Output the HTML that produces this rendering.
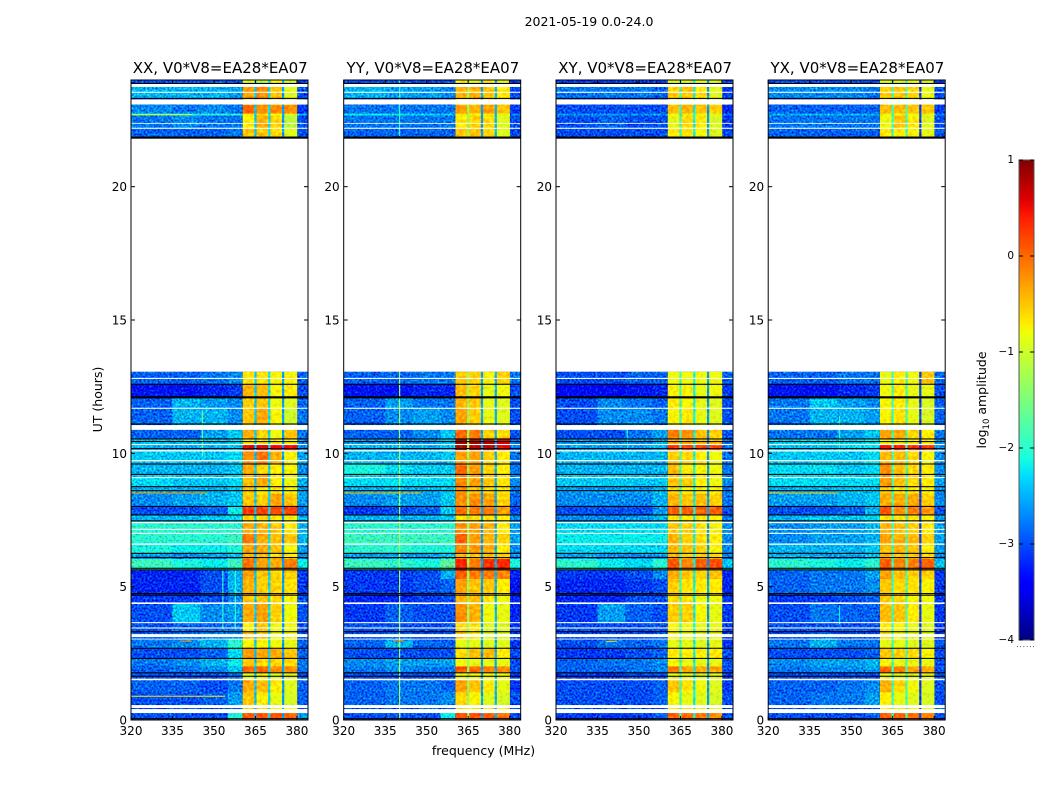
<!DOCTYPE html>
<html>
<head>
<meta charset="utf-8">
<title>2021-05-19 spectrogram</title>
<style>
html,body{margin:0;padding:0;background:#fff;width:1050px;height:800px;overflow:hidden}
svg{display:block}
text{font-family:"DejaVu Sans","Liberation Sans",sans-serif;fill:#000}
</style>
</head>
<body>
<svg id="chart" xmlns="http://www.w3.org/2000/svg" width="1050" height="800" viewBox="0 0 1050 800">
<defs>
<filter id="speckle" filterUnits="objectBoundingBox" x="0" y="0" width="1" height="1" color-interpolation-filters="sRGB">
<feTurbulence type="fractalNoise" baseFrequency="0.5" numOctaves="1" seed="7" result="n"/>
<feColorMatrix in="n" type="matrix" values="0 0 0 0 0.5  1 0 0 0 0  0 1 0 0 0  0 0 0 0 1" result="g"/>
<feComposite in="SourceGraphic" in2="g" operator="arithmetic" k1="0" k2="1" k3="1.3" k4="-0.65"/>
</filter>
<filter id="speckle-soft" filterUnits="objectBoundingBox" x="0" y="0" width="1" height="1" color-interpolation-filters="sRGB">
<feTurbulence type="fractalNoise" baseFrequency="0.3" numOctaves="2" seed="11" result="n"/>
<feColorMatrix in="n" type="matrix" values="0 0 0 0 0.5  1 0 0 0 0  0 0 0 0 0.5  0 0 0 0 1" result="g"/>
<feComposite in="SourceGraphic" in2="g" operator="arithmetic" k1="0" k2="1" k3="0.5" k4="-0.25"/>
</filter>
<linearGradient id="cbar-gradient" x1="0" y1="1" x2="0" y2="0"></linearGradient>
</defs>
<text x="589" y="26" font-size="12.5" text-anchor="middle">2021-05-19 0.0-24.0</text>
<text x="483.5" y="755" font-size="12.5" text-anchor="middle">frequency (MHz)</text>
<text transform="translate(102,399.5) rotate(-90)" font-size="12.5" text-anchor="middle">UT (hours)</text>
<text transform="translate(986,400) rotate(-90)" font-size="12.5" text-anchor="middle">log<tspan font-size="8.5" dy="3">10</tspan><tspan dy="-3"> amplitude</tspan></text>
<g id="panels"></g>
<g id="cbar"></g>
</svg>
<script>
// ---------- chart data ----------
var panelTitles = ["XX, V0*V8=EA28*EA07", "YY, V0*V8=EA28*EA07", "XY, V0*V8=EA28*EA07", "YX, V0*V8=EA28*EA07"];
var xTickLabels = [320, 335, 350, 365, 380];
var yTickLabels = [0, 5, 10, 15, 20];
var cbarTickLabels = [1, 0, -1, -2, -3, -4];
// frequency columns (MHz): four background, band 1, gap, band 2, gap, band 3, gap, band 4, edge
var freqEdges = [320, 335, 345, 355, 360.4, 364.6, 365.4, 369.6, 370.4, 374.6, 375.4, 380, 384];
// UT bands (hours)
var rowStarts = [0, .28, .56, 1.05, 1.52, 1.8, 2.02, 2.31, 2.69, 3.04, 3.31, 3.65, 4.37, 4.72, 5.3, 5.63, 6.05, 6.27, 6.6, 7.0, 7.4, 7.69, 8.01, 8.5, 8.75, 9.21, 9.6, 10.1, 10.33, 10.55, 11.06, 11.7, 12.1, 12.6, 21.84, 22.2, 22.68, 22.75, 23.08, 23.31, 23.85];
var rowEnds = [.28, .56, 1.05, 1.52, 1.8, 2.02, 2.31, 2.69, 3.04, 3.31, 3.65, 4.37, 4.72, 5.3, 5.63, 6.05, 6.27, 6.6, 7.0, 7.4, 7.69, 8.01, 8.5, 8.75, 9.21, 9.6, 10.1, 10.33, 10.55, 11.06, 11.7, 12.1, 12.6, 13.06, 22.2, 22.68, 22.75, 23.08, 23.31, 23.85, 24];
// log10 amplitude per row: 320-335, 335-345, 345-355, 355-360, band1, band2, band3, band4, edge
var valuesXX = [
[-3,-3,-3,-2.1,.05,.1,.1,0,-2.6],[-3,-3,-3,-3,-.6,-.6,-.7,-.7,-3],
[-3,-3,-2.9,-2.6,-.5,-.7,-.85,-.95,-2.9],[-2.9,-2.9,-3,-2.8,-.35,-.45,-.7,-.9,-2.9],
[-3,-3,-3,-2.8,-.9,-.8,-.9,-.9,-3],[-2.9,-2.8,-2.7,-2.4,0,0,-.2,-.2,-2.8],
[-2.8,-2.7,-2.5,-2.2,-.5,-.6,-.6,-.6,-2.8],[-3,-3,-2.9,-2.3,-.25,-.3,-.35,-.5,-2.9],
[-2.8,-2.7,-2.5,-2,-.75,-.75,-.8,-.85,-2.9],[-2.9,-2.8,-2.7,-2.7,-.4,-.5,-.8,-.8,-3],
[-3,-2.9,-2.9,-2.8,-.7,-.5,-.8,-.8,-3],[-3,-2.4,-2.7,-2.6,-.35,-.3,-.55,-.8,-3],
[-3.1,-3.1,-3,-2.7,-.5,-.5,-.6,-.75,-3],[-3.2,-3.2,-3,-2.5,-.4,-.55,-.55,-.65,-3.1],
[-3.2,-3.2,-3,-2.5,-.3,-.5,-.6,-.55,-3.1],[-1.9,-2.1,-2.2,-1.9,-.05,-.3,-.35,-.1,-2.2],
[-2.6,-2.7,-2.6,-2.4,-.4,-.5,-.6,-.7,-2.7],[-2.1,-2.2,-2.2,-2.1,-.3,-.35,-.5,-.75,-2.6],
[-2,-2,-2,-1.9,-.1,-.35,-.45,-.5,-2.5],[-2,-2,-2,-2,-.35,-.4,-.5,-.7,-2.5],
[-2.5,-2.5,-2.4,-2.3,-.6,-.6,-.7,-.75,-2.5],[-3,-3,-2.9,-2.2,.25,.2,.15,.2,-2.8],
[-2.7,-2.6,-2.5,-2.4,-.5,-.55,-.3,-.5,-2.6],[-2.5,-2.5,-2.5,-2.4,-.5,-.7,-.7,-.75,-2.6],
[-2.3,-2.4,-2.4,-2.3,-.45,-.3,-.7,-.8,-2.5],[-2.5,-2.5,-2.5,-2.4,-.35,-.6,-.7,-.75,-2.7],
[-2.4,-2.4,-2.4,-2.3,-.2,-.05,-.4,-.75,-2.6],[-2.5,-2.5,-2.5,-2.4,.6,.6,.5,.5,-2.7],
[-2.4,-2.4,-2.4,-2.3,-.7,-.7,-.7,-.75,-2.7],[-2.9,-2.9,-2.6,-2.4,-.35,-.6,-.8,-.5,-2.8],
[-2.9,-2.5,-2.5,-2.7,-.5,-.35,-.75,-1,-2.8],[-2.9,-2.5,-2.6,-2.7,-.55,-.5,-.8,-.9,-2.9],
[-3.3,-3.3,-3.2,-3.1,-.4,-.45,-.75,-.7,-3],[-2.9,-2.9,-2.8,-2.7,-.65,-.65,-.75,-.75,-2.9],
[-2.9,-2.9,-2.9,-2.8,-.5,-.5,-.6,-.9,-3],[-2.8,-2.7,-2.8,-2.8,-.7,-.4,-.6,-1.1,-3],
[-1.9,-2,-2,-2,-.8,-.7,-.8,-.9,-2.5],[-2.7,-2.8,-2.7,-2.8,0,-.2,-.2,-.2,-3.1],
[-3,-3,-3,-3,-.6,-.6,-.6,-.6,-3],[-2.5,-2.5,-2.5,-2.6,-.3,-.2,-.5,-.9,-3],
[-3,-3,-3,-3,-.9,-1.1,-.7,-1,-3.1]];
var valuesYY = [
[-3,-3,-3,-2.2,.15,.1,.05,-.05,-3],[-3,-3,-3,-3,-.6,-.7,-.7,-.7,-3],
[-2.9,-2.8,-2.8,-2.7,-.6,-.75,-.9,-.95,-3],[-2.9,-2.8,-2.8,-2.9,-.3,-.5,-.7,-.85,-3.1],
[-3,-3,-3,-3,-.8,-.8,-.8,-.8,-3.1],[-2.8,-2.7,-2.8,-2.8,.1,0,-.15,-.2,-3],
[-2.7,-2.6,-2.6,-2.6,-.8,-.85,-.85,-.85,-3],[-3,-3,-3,-3,-.6,-.45,-.45,-.7,-3],
[-2.9,-2.5,-2.9,-2.9,-.85,-.85,-.9,-.9,-3.1],[-3,-2.9,-3,-3,-.55,-.7,-.9,-.9,-3.1],
[-3,-3,-3,-3,-.6,-.7,-.9,-.9,-3.1],[-3.1,-2.9,-3,-3,-.2,-.4,-.8,-.85,-3.2],
[-3.2,-3.2,-3.1,-3,-.4,-.45,-.7,-.8,-3.2],[-3.1,-3.1,-3,-2.9,-.3,-.5,-.5,-.7,-3.3],
[-3.1,-3.1,-3,-2.5,.05,-.1,-.1,-.15,-3.2],[-1.9,-2,-2.1,-1.7,.35,-.1,.3,.35,-2.1],
[-2.6,-2.6,-2.6,-2.4,-.4,-.5,-.5,-.6,-2.7],[-2,-2,-2.1,-2.1,-.15,-.25,-.4,-.7,-2.7],
[-1.9,-1.9,-1.9,-1.9,.05,-.3,-.4,-.55,-2.6],[-2,-2,-2,-2,-.2,-.3,-.4,-.7,-2.6],
[-2.5,-2.5,-2.5,-2.4,-.6,-.6,-.6,-.7,-2.7],[-3.1,-3,-2.9,-2.4,-.05,-.1,-.1,-.3,-3],
[-2.7,-2.6,-2.6,-2.4,-.2,-.2,-.3,-.55,-2.9],[-2.5,-2.5,-2.5,-2.4,-.2,-.5,-.6,-.7,-2.8],
[-2.3,-2.3,-2.3,-2.3,-.15,-.3,-.5,-.65,-2.7],[-2.1,-2.3,-2.4,-2.4,0,-.3,-.55,-.7,-2.8],
[-2.5,-2.5,-2.5,-2.4,-.3,-.3,-.55,-.7,-2.8],[-2.5,-2.5,-2.5,-2.4,.85,.75,.75,.55,-2.8],
[-2.6,-2.6,-2.6,-2.4,.85,.8,.75,.6,-2.8],[-2.9,-2.9,-2.7,-2.4,0,-.1,-.55,-.6,-3],
[-2.9,-2.7,-2.6,-2.7,-.3,-.55,-.85,-.9,-3],[-2.9,-2.6,-2.8,-2.8,-.4,-.5,-.85,-.9,-3],
[-3.3,-3.3,-3.2,-3.2,-.45,-.6,-.85,-.8,-3],[-2.9,-2.9,-2.8,-2.8,-.5,-.55,-.75,-.55,-2.8],
[-2.9,-2.9,-2.9,-2.9,-.5,-.5,-.6,-.9,-3],[-2.8,-2.8,-2.8,-2.8,-.7,-.55,-.6,-.9,-3],
[-2.2,-2.2,-2.3,-2.4,-.8,-.8,-.8,-.9,-2.7],[-2.8,-2.8,-2.8,-2.8,-.3,-.4,-.3,-.5,-3.1],
[-3,-3,-3,-3,-.6,-.6,-.6,-.6,-3],[-2.5,-2.6,-2.6,-2.7,-.4,-.4,-.5,-.7,-3],
[-3,-3,-3,-3,-.7,-.9,-.7,-.9,-3.1]];
var valuesXY = [
[-3.1,-3.1,-3.1,-2.9,.05,0,-.1,-.2,-3],[-3,-3,-3,-3,-.7,-.7,-.8,-.8,-3],
[-3,-3,-3,-2.9,-.75,-.85,-.9,-.95,-3],[-3,-3,-3,-2.9,-.5,-.65,-.8,-.9,-3.1],
[-3.1,-3.1,-3,-3,-.85,-.85,-.9,-.9,-3.1],[-2.9,-2.9,-2.8,-2.7,-.1,-.3,-.35,-.3,-3],
[-2.9,-2.8,-2.8,-2.7,-.75,-.85,-.85,-.85,-3],[-3.1,-3.1,-3,-2.9,-.7,-.7,-.7,-.7,-3],
[-3,-2.8,-2.9,-2.8,-.85,-.85,-.9,-.85,-3.1],[-3,-3,-3,-2.9,-.75,-.8,-.85,-.85,-3.1],
[-3,-3,-3,-3,-.75,-.8,-.85,-.85,-3.1],[-3.1,-2.6,-2.9,-3,-.55,-.55,-.75,-.85,-3.1],
[-3.2,-3.2,-3,-3,-.6,-.65,-.8,-.8,-3.1],[-3.2,-3.2,-3.1,-3,-.55,-.65,-.7,-.7,-3.2],
[-3.1,-3.1,-3,-2.7,-.35,-.5,-.55,-.5,-3.2],[-2,-2.2,-2.3,-2,.1,-.15,.05,.15,-2.4],
[-2.6,-2.7,-2.7,-2.6,-.4,-.55,-.55,-.6,-2.8],[-2.3,-2.3,-2.3,-2.3,-.45,-.5,-.6,-.75,-2.7],
[-2.2,-2.2,-2.2,-2.2,-.4,-.55,-.6,-.7,-2.7],[-2.3,-2.3,-2.3,-2.3,-.5,-.55,-.65,-.75,-2.7],
[-2.7,-2.7,-2.6,-2.5,-.7,-.7,-.7,-.75,-2.8],[-3,-3,-3,-2.6,.05,.05,0,.05,-3],
[-2.7,-2.7,-2.7,-2.5,-.4,-.5,-.45,-.55,-2.8],[-2.6,-2.6,-2.6,-2.5,-.6,-.75,-.75,-.75,-2.8],
[-2.4,-2.4,-2.4,-2.4,-.5,-.55,-.7,-.8,-2.7],[-2.5,-2.5,-2.5,-2.5,-.45,-.7,-.75,-.8,-2.8],
[-2.5,-2.5,-2.5,-2.5,-.55,-.6,-.7,-.8,-2.8],[-2.6,-2.6,-2.6,-2.5,.3,.25,.2,.2,-2.8],
[-2.6,-2.6,-2.6,-2.5,-.4,-.4,-.5,-.5,-2.8],[-3,-3,-2.8,-2.6,-.1,-.2,-.45,-.55,-3],
[-3,-2.7,-2.7,-2.8,-.75,-.7,-.85,-.9,-3],[-3,-2.7,-2.8,-2.9,-.7,-.75,-.85,-.9,-3],
[-3.4,-3.4,-3.3,-3.2,-.75,-.75,-.85,-.8,-3.1],[-3,-3,-2.9,-2.9,-.8,-.8,-.8,-.8,-2.9],
[-3,-3,-3,-3,-.7,-.7,-.75,-.9,-3],[-3,-2.9,-3,-3,-.85,-.6,-.7,-.95,-3.1],
[-2.6,-2.6,-2.6,-2.6,-.85,-.85,-.85,-.9,-2.8],[-3,-3,-3,-3,-.45,-.4,-.5,-.55,-3.2],
[-3.1,-3.1,-3.1,-3.1,-.7,-.7,-.7,-.7,-3.1],[-2.8,-2.8,-2.8,-2.9,-.55,-.5,-.65,-.9,-3.1],
[-3.1,-3.1,-3.1,-3.1,-.9,-.95,-.85,-.95,-3.1]];
var valuesYX = [
[-3,-3,-3,-2.9,.05,.05,-.05,-.15,-3],[-3,-3,-3,-3,-.7,-.7,-.8,-.8,-3],
[-2.9,-2.8,-2.8,-2.6,-.7,-.85,-.9,-.95,-3],[-2.9,-2.9,-2.8,-2.7,-.4,-.6,-.8,-.9,-3],
[-3,-3,-3,-3,-.85,-.85,-.9,-.9,-3],[-2.8,-2.7,-2.7,-2.6,0,-.1,-.3,-.3,-3],
[-2.7,-2.6,-2.6,-2.5,-.75,-.85,-.85,-.85,-3],[-3,-3,-3,-2.9,-.5,-.55,-.6,-.75,-3],
[-2.8,-2.5,-2.8,-2.8,-.85,-.85,-.9,-.9,-3],[-3,-2.9,-3,-3,-.65,-.75,-.85,-.9,-3.1],
[-3,-3,-3,-3,-.7,-.75,-.85,-.9,-3.1],[-3,-2.8,-2.9,-2.9,-.45,-.5,-.7,-.85,-3.1],
[-3.1,-3.1,-3,-2.9,-.55,-.6,-.75,-.8,-3.1],[-2.9,-2.8,-2.8,-2.7,-.5,-.6,-.65,-.75,-3.1],
[-2.9,-2.8,-2.8,-2.6,-.3,-.45,-.55,-.55,-3.1],[-2,-2.1,-2.2,-2,.05,-.15,-.1,.05,-2.4],
[-2.5,-2.6,-2.6,-2.4,-.4,-.5,-.55,-.6,-2.7],[-2.5,-2.5,-2.5,-2.4,-.45,-.4,-.5,-.7,-2.6],
[-2.7,-2.6,-2.6,-2.5,-.3,-.4,-.45,-.55,-2.6],[-2.7,-2.6,-2.6,-2.5,-.4,-.45,-.55,-.7,-2.6],
[-2.5,-2.4,-2.4,-2.3,-.65,-.65,-.7,-.75,-2.6],[-3,-3,-2.9,-2.5,.1,-.2,-.1,-.25,-3],
[-2.6,-2.6,-2.5,-2.4,-.35,-.35,-.35,-.55,-2.7],[-2.5,-2.5,-2.4,-2.4,-.55,-.7,-.7,-.75,-2.7],
[-2.3,-2.3,-2.3,-2.3,-.25,-.45,-.6,-.7,-2.6],[-2.3,-2.3,-2.4,-2.3,-.2,-.45,-.6,-.7,-2.7],
[-2.4,-2.4,-2.4,-2.3,-.45,-.45,-.6,-.75,-2.7],[-2.4,-2.4,-2.3,-2.3,.45,.4,.3,.25,-2.6],
[-2.3,-2.3,-2.3,-2.2,-.75,-.75,-.75,-.75,-2.6],[-2.8,-2.8,-2.6,-2.4,-.3,-.35,-.6,-.7,-2.8],
[-2.8,-2.5,-2.5,-2.6,-.75,-.65,-.85,-.95,-2.9],[-2.8,-2.4,-2.6,-2.7,-.75,-.7,-.85,-.95,-2.9],
[-3.3,-3.3,-3.2,-3.1,-.8,-.7,-.85,-.85,-3],[-2.9,-2.9,-2.8,-2.8,-.85,-.7,-.8,-.5,-2.9],
[-2.9,-2.9,-2.9,-2.9,-.7,-.7,-.75,-.85,-3],[-2.8,-2.8,-2.8,-2.8,-.8,-.5,-.7,-.9,-3],
[-2.5,-2.5,-2.5,-2.5,-.85,-.85,-.85,-.9,-2.7],[-2.9,-2.9,-2.9,-2.9,-.45,-.45,-.5,-.5,-3.1],
[-3,-3,-3,-3,-.7,-.7,-.7,-.7,-3],[-2.7,-2.7,-2.7,-2.8,-.55,-.5,-.6,-.85,-3],
[-3,-3,-3,-3,-.9,-.95,-.85,-.95,-3.1]];
var panelValues = [valuesXX, valuesYY, valuesXY, valuesYX];
// channel gaps near 365, 370, 375 MHz per panel
var gapValues = [[-2.4,-2.3,-2.6],[-1.3,-2.6,-2.5],[-1.9,-2.2,-2.6],[-1.9,-1.8,-3.1]];
// flagged UT intervals, including the long empty stretch of the observation
var whiteFlags = [[.26,.41],[.45,.56],[1.49,1.55],[3.02,3.05],[3.11,3.22],[3.43,3.47],[3.63,3.67],[4.35,4.41],[6.57,6.62],[6.98,7.02],[7.13,7.17],[7.38,7.43],[9.07,9.11],[9.7,9.75],[10.07,10.12],[10.31,10.35],[10.88,11.06],[11.67,11.71],[12.79,12.83],[13.06,21.84],[22.17,22.21],[22.36,22.39],[23.08,23.27],[23.52,23.56],[23.74,23.85]];
var blackFlags = [[.03,.07],[1.62,1.66],[1.75,1.79],[2.29,2.33],[2.67,2.71],[3.29,3.33],[4.66,4.7],[4.72,4.76],[5.61,5.65],[5.67,5.71],[6.07,6.11],[6.23,6.27],[7.45,7.49],[7.67,7.71],[7.99,8.03],[8.58,8.62],[8.73,8.77],[9.19,9.23],[9.58,9.62],[10.16,10.2],[10.42,10.46],[10.52,10.56],[11.08,11.12],[12.06,12.14],[12.57,12.61],[21.8,21.88],[23.29,23.33],[23.85,23.89]];
// narrow interference: panel, frequency (MHz), start UT, end UT, level
var vlinePanels = [1, 1, 0, 3, 0, 0, 2, 3];
var vlineFreqs = [340, 340, 345.6, 345.6, 353, 357.5, 345.6, 345.6];
var vlineStarts = [0, 21.9, 9.9, 10, 3.4, 3.4, 10, 3.6];
var vlineEnds = [13.06, 24, 11.6, 11.4, 5.6, 5.6, 11, 4.3];
var vlineLevels = [-1.3, -2, -1.7, -2, -2, -2, -2.2, -2.2];
// narrow streaks: panel, UT, start MHz, end MHz, level
var hlinePanels = [0, 0, 1, 3, 1, 0, 2, 0];
var hlineTimes = [.91, 8.53, 8.53, 8.53, 2.97, 2.97, 2.97, 22.72];
var hlineStarts = [320, 320, 320, 320, 338, 338, 338, 320];
var hlineEnds = [354, 347, 348, 345, 342, 342, 342, 342];
var hlineLevels = [-.7, -.2, -.4, -.5, 0, -.1, -.6, -1];

// ---------- axis functions ----------
var SVGNS = 'http://www.w3.org/2000/svg';
var plotLefts = [131, 343.7, 556, 768.2];
var plotWidth = 177, plotTop = 80, plotBottom = 720;
var F0 = 320, F1 = 384, UT1 = 24;
function xScale(p, f) { return plotLefts[p] + (f - F0) / (F1 - F0) * plotWidth; }
function yScale(t) { return plotBottom - t / UT1 * (plotBottom - plotTop); }
var cbTop = 160, cbBottom = 640, cbLeft = 1019, cbRight = 1034;
function cbScale(v) { return cbBottom - (v + 4) / 5 * (cbBottom - cbTop); }
function clamp(x) { return Math.max(0, Math.min(1, x)); }
function jet(v) {
  var t = clamp((v + 4) / 5);
  var r = t < .35 ? 0 : t < .66 ? (t - .35) / .31 : t < .89 ? 1 : 1 - (t - .89) / .11 * .5;
  var g = t < .125 ? 0 : t < .375 ? (t - .125) / .25 : t < .64 ? 1 : t < .91 ? 1 - (t - .64) / .27 : 0;
  var b = t < .11 ? .5 + t / .11 * .5 : t < .34 ? 1 : t < .65 ? 1 - (t - .34) / .31 : 0;
  return 'rgb(' + Math.round(r * 255) + ',' + Math.round(g * 255) + ',' + Math.round(b * 255) + ')';
}
function make(tag, attrs, parent) {
  var el = document.createElementNS(SVGNS, tag);
  for (var k in attrs) el.setAttribute(k, attrs[k]);
  parent.appendChild(el);
  return el;
}
function tickLine(parent, x1, y1, x2, y2, name) {
  var el = make('line', { x1: x1, y1: y1, x2: x2, y2: y2, stroke: '#000', 'stroke-width': 1 }, parent);
  
  
}

// ---------- panels ----------
var panelsRoot = document.getElementById('panels');
var defs = document.querySelector('defs');
panelTitles.forEach(function (title, p) {
  var px0 = plotLefts[p];
  var g = make('g', {}, panelsRoot);
  
  

  var clip = make('clipPath', { id: 'clip' + p }, defs);
  make('rect', { x: px0, y: plotTop, width: plotWidth, height: plotBottom - plotTop }, clip);

  var data = make('g', { 'clip-path': 'url(#clip' + p + ')' }, g);
  
  

  // textured cell groups
  var noisy = make('g', { filter: 'url(#speckle)' }, data);
  
  
  var band = make('g', { filter: 'url(#speckle-soft)' }, data);
  
  

  var rows = panelValues[p];
  rows.forEach(function (row, r) {
    var cols = [row[0], row[1], row[2], row[3], row[4], gapValues[p][0], row[5], gapValues[p][1], row[6], gapValues[p][2], row[7], row[8]];
    cols.forEach(function (v, c) {
      var x0 = xScale(p, freqEdges[c]), x1 = xScale(p, freqEdges[c + 1]);
      var y0 = yScale(rowEnds[r]), y1 = yScale(rowStarts[r]);
      var isNoisy = c < 4 || c === 11;
      var cell = make('rect', { x: x0, y: y0, width: x1 - x0 + .3, height: y1 - y0 + .3, fill: jet(v) }, isNoisy ? noisy : band);
      
      
    });
  });

  // interference lines
  vlineFreqs.forEach(function (f, i) {
    if (vlinePanels[i] !== p) return;
    var ln = make('rect', { x: xScale(p, f), y: yScale(vlineEnds[i]), width: 1.2, height: yScale(vlineStarts[i]) - yScale(vlineEnds[i]), fill: jet(vlineLevels[i]) }, data);
    
    
  });
  hlineTimes.forEach(function (t, i) {
    if (hlinePanels[i] !== p) return;
    var ln = make('rect', { x: xScale(p, hlineStarts[i]), y: yScale(t), width: xScale(p, hlineEnds[i]) - xScale(p, hlineStarts[i]), height: 1, fill: jet(hlineLevels[i]) }, data);
    
    
  });

  // flagged intervals
  whiteFlags.forEach(function (f) {
    var s = make('rect', { x: px0, y: yScale(f[1]), width: plotWidth, height: yScale(f[0]) - yScale(f[1]), fill: '#fff' }, data);
    
    
  });
  blackFlags.forEach(function (f) {
    var s = make('rect', { x: px0, y: yScale(f[1]), width: plotWidth, height: yScale(f[0]) - yScale(f[1]), fill: '#000' }, data);
    
    
  });

  // frame
  var frame = make('rect', { x: px0, y: plotTop, width: plotWidth, height: plotBottom - plotTop, fill: 'none', stroke: '#000', 'stroke-width': 1 }, g);
  
  

  // ticks + labels
  xTickLabels.forEach(function (v) {
    var x = xScale(p, v);
    tickLine(g, x, plotBottom, x, plotBottom - 4, 'x-tick');
    tickLine(g, x, plotTop, x, plotTop + 4, 'x-tick-top');
    var t = make('text', { x: x, y: 735, 'font-size': 12, 'text-anchor': 'middle' }, g);
    
    
    t.textContent = v;
  });
  yTickLabels.forEach(function (v) {
    var y = yScale(v);
    tickLine(g, px0, y, px0 + 4, y, 'y-tick');
    tickLine(g, px0 + plotWidth, y, px0 + plotWidth - 4, y, 'y-tick-right');
    var t = make('text', { x: px0 - 4, y: y + 4.5, 'font-size': 12, 'text-anchor': 'end' }, g);
    
    
    t.textContent = v;
  });

  var tt = make('text', { x: px0 + plotWidth / 2 + .7, y: 73, 'font-size': 15, 'text-anchor': 'middle' }, g);
  
  
  tt.textContent = title;
});

// ---------- colorbar ----------
var grad = document.getElementById('cbar-gradient');
for (var gi = 0; gi <= 50; gi++) {
  make('stop', { offset: (gi / 50), 'stop-color': jet(-4 + gi / 10) }, grad);
}
var cb = document.getElementById('cbar');
var cbFill = make('rect', { x: cbLeft, y: cbTop, width: cbRight - cbLeft, height: cbBottom - cbTop, fill: 'url(#cbar-gradient)', stroke: '#555', 'stroke-width': 1 }, cb);


cbarTickLabels.forEach(function (v) {
  var y = cbScale(v);
  tickLine(cb, cbLeft, y, cbLeft + 4, y, 'colorbar-tick');
  tickLine(cb, cbRight, y, cbRight - 4, y, 'colorbar-tick-right');
  var t = make('text', { x: cbLeft - 5, y: y + 3, 'font-size': 10.5, 'text-anchor': 'end' }, cb);
  
  
  t.textContent = String(v).replace('-', '\u2212');
});
var minor = make('text', { x: 1026, y: 647, 'font-size': 7, 'text-anchor': 'middle', fill: '#666', 'letter-spacing': '1' }, cb);


minor.textContent = '......';
</script>
</body>
</html>
